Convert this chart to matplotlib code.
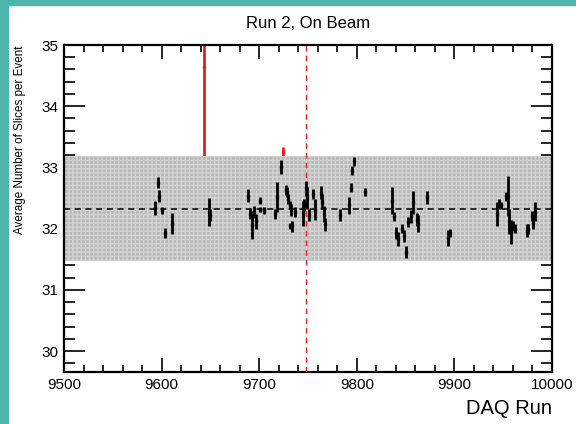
import numpy as np
import matplotlib.pyplot as plt
from matplotlib.ticker import MultipleLocator

# runs inside the band
runs = [9593.5, 9596, 9597, 9600, 9603, 9611, 9649, 9650,
        9689, 9691, 9692.6, 9694.7, 9696.4, 9700.5, 9700.8, 9705, 9716.5, 9718,
        9722, 9727.5, 9728.5, 9729.8, 9731.6, 9732, 9733, 9734, 9736.7,
        9744.6, 9746, 9748, 9749.3, 9751.3, 9754.8, 9757.2, 9763, 9764.3, 9766.4, 9767,
        9782.8, 9792.3, 9793.7, 9795.4, 9797, 9808.4,
        9836.4, 9838, 9840, 9841.9, 9846, 9848.5, 9850.4, 9852.8, 9855.3, 9857.3,
        9861.4, 9863, 9871.6, 9893.8, 9895.5,
        9943.3, 9945.7, 9947.7, 9952.9, 9954.6, 9956.2, 9958, 9960.4, 9962,
        9974, 9975.7, 9979.2, 9980.8, 9982.6]
slices = [32.34, 32.75, 32.54, 32.30, 31.93, 32.08, 32.27, 32.22,
          32.54, 32.24, 32.06, 32.27, 32.12, 32.31, 32.46, 32.30, 32.24, 32.52,
          33.01, 32.63, 32.60, 32.48, 32.39, 32.05, 32.30, 32.04, 32.27,
          32.25, 32.39, 32.66, 32.50, 32.23, 32.57, 32.31, 32.59, 32.44, 32.24, 32.07,
          32.22, 32.38, 32.67, 32.95, 33.10, 32.60,
          32.46, 32.20, 31.93, 31.83, 32.00, 31.88, 31.62, 32.11, 32.20, 32.43,
          32.15, 32.08, 32.51, 31.85, 31.93,
          32.24, 32.40, 32.38, 32.53, 32.53, 32.12, 31.95, 32.05, 32.00,
          31.97, 31.99, 32.21, 32.10, 32.28]
errs = [0.12, 0.09, 0.10, 0.06, 0.08, 0.17, 0.23, 0.10,
        0.11, 0.08, 0.23, 0.10, 0.12, 0.04, 0.06, 0.06, 0.08, 0.24,
        0.12, 0.08, 0.08, 0.08, 0.07, 0.05, 0.10, 0.09, 0.08,
        0.21, 0.10, 0.12, 0.18, 0.10, 0.08, 0.17, 0.11, 0.12, 0.13, 0.11,
        0.10, 0.14, 0.07, 0.08, 0.07, 0.06,
        0.22, 0.07, 0.10, 0.11, 0.07, 0.10, 0.10, 0.08, 0.11, 0.19,
        0.10, 0.14, 0.11, 0.13, 0.07,
        0.19, 0.08, 0.06, 0.07, 0.33, 0.20, 0.20, 0.08, 0.07,
        0.10, 0.08, 0.08, 0.10, 0.15]

# runs outside the band
bad_runs = [9643, 9724]
bad_slices = [34.64, 33.25]
bad_errs = [1.46, 0.08]

mean_slices = 32.33
band_halfwidth = 0.86
marker_run = 9748

plt.rcParams['font.family'] = ['Liberation Sans', 'DejaVu Sans']

fig = plt.figure(figsize=(5.76, 4.24), dpi=100)
# teal border strips
fig.patches.append(plt.Rectangle((0, 0), 8 / 576, 1, transform=fig.transFigure,
                                 color='#4bb5ab', zorder=0))
fig.patches.append(plt.Rectangle((0, 1 - 5 / 424), 1, 5 / 424, transform=fig.transFigure,
                                 color='#4bb5ab', zorder=0))

ax = fig.add_axes([64 / 576, 1 - 372 / 424, 488 / 576, 327 / 424])

ax.errorbar(bad_runs, bad_slices, yerr=bad_errs, fmt='s', ms=1.5, color='#e02020',
            elinewidth=2, capsize=0, zorder=1)

ax.axhspan(mean_slices - band_halfwidth, mean_slices + band_halfwidth,
           facecolor='#b9b9b9', edgecolor='#d2d2d2', hatch='++++', lw=0, zorder=2)
ax.axhline(mean_slices, color='black', ls=(0, (4, 3)), lw=1.1, zorder=3)
ax.axvline(marker_run, color='#e02020', ls=(0, (4, 3)), lw=1, zorder=3)

ax.errorbar(runs, slices, yerr=errs, fmt='s', ms=1.5, color='black',
            elinewidth=2, capsize=0, zorder=4)

ax.set_xlim(9500, 10000)
ax.set_ylim(29.66, 35)
ax.xaxis.set_major_locator(MultipleLocator(100))
ax.xaxis.set_minor_locator(MultipleLocator(20))
ax.yaxis.set_major_locator(MultipleLocator(1))
ax.yaxis.set_minor_locator(MultipleLocator(0.2))
ax.tick_params(which='both', direction='in', top=True, right=True, labelsize=11,
               width=1.2, pad=4)
ax.tick_params(axis='x', which='major', length=10)
ax.tick_params(axis='x', which='minor', length=5)
ax.tick_params(axis='y', which='major', length=15)
ax.tick_params(axis='y', which='minor', length=8)
for s in ax.spines.values():
    s.set_linewidth(1.6)

ax.set_title('Run 2, On Beam', fontsize=12, pad=12)
ax.set_xlabel('DAQ Run', fontsize=14.5, loc='right', labelpad=5)
ax.set_ylabel('Average Number of Slices per Event', fontsize=8.4, loc='top')
ax.yaxis.set_label_coords(-0.078, 1.0)

fig.savefig('out.png', dpi=100)
